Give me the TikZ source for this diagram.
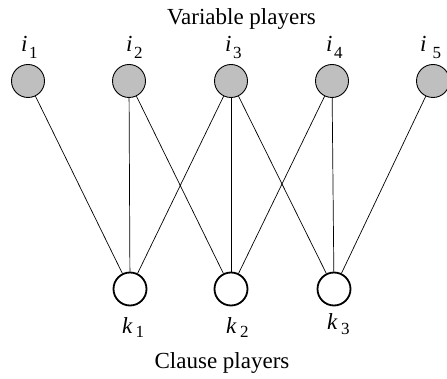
\documentclass[tikz,border=0pt]{standalone}
\usepackage{fontspec}
\setmainfont{Liberation Serif}
\newcommand{\lbl}[4]{\textit{#1}\kern#3pt\raisebox{-#4pt}{\fontsize{17}{17}\selectfont #2}}
\begin{document}
\begin{tikzpicture}[x=1pt,y=-1pt,
  varp/.style={circle,draw=black,fill=black!25,line width=0.9pt,minimum size=33pt,inner sep=0pt},
  clsp/.style={circle,draw=black,fill=white,line width=1.8pt,minimum size=33pt,inner sep=0pt},
  edge/.style={draw=black,line width=0.7pt},
  txt/.style={inner sep=0pt,font=\fontsize{23}{23}\selectfont},
  sub/.style={inner sep=0pt,anchor=base west,font=\fontsize{23}{23}\selectfont}]
\useasboundingbox (0,0) rectangle (447,379);
\node[varp] (i1) at (28,81) {};
\node[varp] (i2) at (129,81) {};
\node[varp] (i3) at (231,81) {};
\node[varp] (i4) at (332,81) {};
\node[varp] (i5) at (433,81) {};
\node[clsp] (k1) at (130,289) {};
\node[clsp] (k2) at (231,289) {};
\node[clsp] (k3) at (334,289) {};
\draw[edge] (i1) -- (k1);
\draw[edge] (i2) -- (k1);
\draw[edge] (i2) -- (k2);
\draw[edge] (i3) -- (k1);
\draw[edge] (i3) -- (k2);
\draw[edge] (i3) -- (k3);
\draw[edge] (i4) -- (k2);
\draw[edge] (i4) -- (k3);
\draw[edge] (i5) -- (k3);
\node[sub] (li1) at (21,52) {\lbl{i}{1}{1.5}{7}};
\node[sub] (li2) at (126,52) {\lbl{i}{2}{1.5}{7}};
\node[sub] (li3) at (225,52) {\lbl{i}{3}{1.5}{7}};
\node[sub] (li4) at (326,52) {\lbl{i}{4}{1.5}{7}};
\node[sub] (li5) at (420,52) {\lbl{i}{5}{6}{7}};
\node[sub] (lk1) at (122,333) {\lbl{k}{1}{3}{5}};
\node[sub] (lk2) at (226,333) {\lbl{k}{2}{3.5}{5}};
\node[sub] (lk3) at (327,330) {\lbl{k}{3}{3.5}{5}};
\node[txt,anchor=base] (vt) at (241.5,25) {Variable players};
\node[txt,anchor=base] (ct) at (222,368) {Clause players};
\end{tikzpicture}
\end{document}
